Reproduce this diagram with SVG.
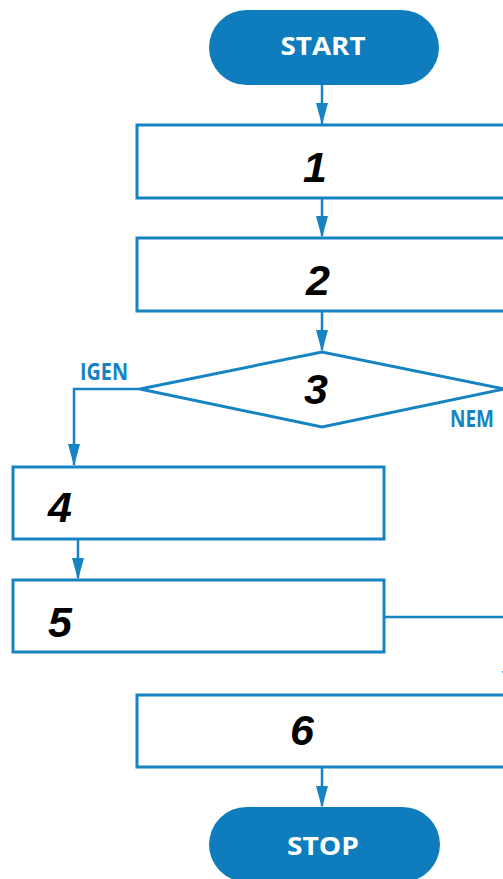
<svg xmlns="http://www.w3.org/2000/svg" width="503" height="879" viewBox="0 0 503 879">
<defs>
<style>
.box{fill:#fff;stroke:#1683c2;stroke-width:3}
.pill{fill:#0f7dbd}
.line{fill:none;stroke:#1683c2;stroke-width:2.5}
.num{font-family:"Liberation Sans",Arial,sans-serif;font-weight:bold;font-style:italic;font-size:43px;fill:#000;text-anchor:middle}
.term{font-family:"Open Sans","DejaVu Sans",sans-serif;font-weight:bold;font-size:25px;fill:#fff;text-anchor:middle}
.lbl{font-family:"Open Sans","DejaVu Sans",sans-serif;font-weight:bold;font-size:24px;fill:#1683c2}
</style>
</defs>
<rect width="503" height="879" fill="#fff"/>
<g id="connectors">
<path class="line" d="M322,85 V124"/>
<path d="M316,103 L328,103 L322,125 Z" fill="#1683c2"/>
<path class="line" d="M322,198 V236"/>
<path d="M316,216 L328,216 L322,238 Z" fill="#1683c2"/>
<path class="line" d="M322,311 V350"/>
<path d="M316,330 L328,330 L322,352 Z" fill="#1683c2"/>
<path class="line" d="M140,389 H74 V465"/>
<path d="M68,444 L80,444 L74,466 Z" fill="#1683c2"/>
<path class="line" d="M78,539 V578"/>
<path d="M72,558 L84,558 L78,580 Z" fill="#1683c2"/>
<path class="line" d="M384,617 H510"/>
<path d="M502,671 L516,671 L509,694 Z" fill="#1683c2"/>
<path class="line" d="M322,767 V806"/>
<path d="M316,786 L328,786 L322,808 Z" fill="#1683c2"/>
<text class="lbl" x="104" y="380" text-anchor="middle" textLength="48" lengthAdjust="spacingAndGlyphs">IGEN</text>
<text class="lbl" x="472" y="427" text-anchor="middle" font-size="23" textLength="44" lengthAdjust="spacingAndGlyphs">NEM</text>
</g>
<g id="start">
<rect class="pill" x="209" y="10" width="230" height="75" rx="37.5"/>
<text class="term" x="323" y="55" textLength="85" lengthAdjust="spacingAndGlyphs">START</text>
</g>
<g id="n1">
<rect class="box" x="137" y="125" width="390" height="73"/>
<text class="num" x="315" y="182">1</text>
</g>
<g id="n2">
<rect class="box" x="137" y="238" width="390" height="73"/>
<text class="num" x="318" y="295">2</text>
</g>
<g id="n3">
<polygon class="box" points="140,389 322,352 504,389 322,427"/>
<text class="num" x="316" y="404">3</text>
</g>
<g id="n4">
<rect class="box" x="13" y="467" width="371" height="72"/>
<text class="num" x="60" y="522">4</text>
</g>
<g id="n5">
<rect class="box" x="13" y="580" width="371" height="72"/>
<text class="num" x="60" y="637">5</text>
</g>
<g id="n6">
<rect class="box" x="137" y="695" width="390" height="72"/>
<text class="num" x="302" y="745">6</text>
</g>
<g id="stop">
<rect class="pill" x="209" y="807" width="231" height="75" rx="37.5"/>
<text class="term" x="323" y="855" textLength="72" lengthAdjust="spacingAndGlyphs">STOP</text>
</g>
</svg>
